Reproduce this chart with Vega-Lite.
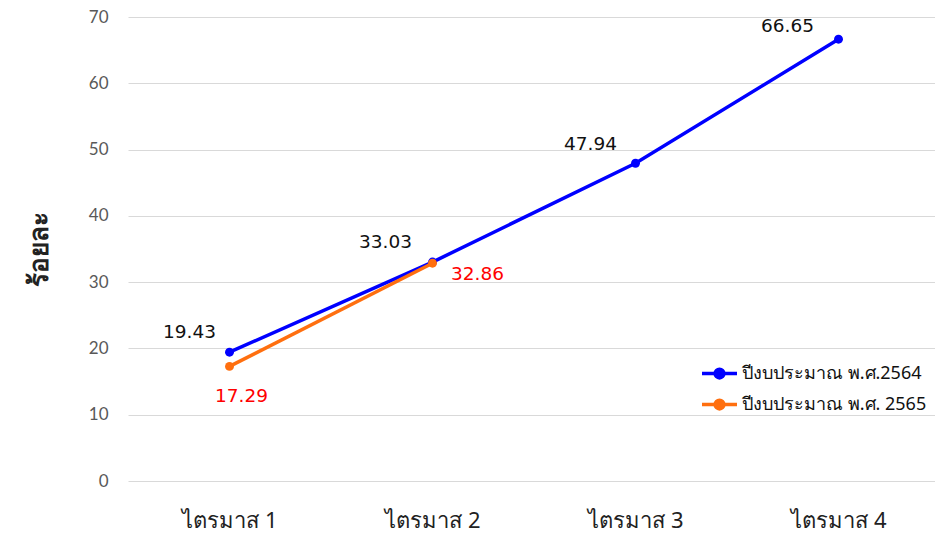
{
  "$schema": "https://vega.github.io/schema/vega-lite/v6.json",
  "width": 812,
  "height": 464,
  "autosize": {"type": "none"},
  "padding": {"left": 128, "top": 17, "right": 0, "bottom": 58},
  "background": "white",
  "config": {
    "view": {"stroke": null},
    "font": "DejaVu Sans"
  },
  "data": {
    "values": [
      {"q": "ไตรมาส 1", "series": "ปีงบประมาณ พ.ศ.2564", "v": 19.43},
      {"q": "ไตรมาส 2", "series": "ปีงบประมาณ พ.ศ.2564", "v": 33.03},
      {"q": "ไตรมาส 3", "series": "ปีงบประมาณ พ.ศ.2564", "v": 47.94},
      {"q": "ไตรมาส 4", "series": "ปีงบประมาณ พ.ศ.2564", "v": 66.65},
      {"q": "ไตรมาส 1", "series": "ปีงบประมาณ พ.ศ. 2565", "v": 17.29},
      {"q": "ไตรมาส 2", "series": "ปีงบประมาณ พ.ศ. 2565", "v": 32.86}
    ]
  },
  "encoding": {
    "x": {
      "field": "q", "type": "ordinal",
      "scale": {"type": "point", "padding": 0.5},
      "axis": {"title": null, "labelAngle": 0, "domain": false, "ticks": false, "labelPadding": 29, "labelFontSize": 22, "labelColor": "#222222", "labelFont": "Noto Sans"}
    },
    "y": {
      "field": "v", "type": "quantitative",
      "scale": {"domain": [0, 70]},
      "axis": {"title": "ร้อยละ", "titleFontSize": 26, "titleFontWeight": "bold", "titleColor": "#222222", "titlePadding": 36, "titleFont": "Noto Sans",
        "values": [0, 10, 20, 30, 40, 50, 60, 70], "domain": false, "ticks": false, "labelPadding": 20, "labelFontSize": 17, "labelColor": "#595959", "labelFont": "Lato",
        "gridColor": "#d9d9d9", "gridWidth": 1}
    }
  },
  "layer": [
    {
      "mark": {"type": "line", "strokeWidth": 3.5, "point": {"filled": true, "size": 80}},
      "encoding": {
        "color": {
          "field": "series", "type": "nominal",
          "scale": {"domain": ["ปีงบประมาณ พ.ศ.2564", "ปีงบประมาณ พ.ศ. 2565"], "range": ["#0000ff", "#ff6f0f"]},
          "legend": {"title": null, "orient": "none", "legendX": 572, "legendY": 337, "labelFontSize": 18, "labelColor": "#111111", "labelFont": "Noto Sans", "labelLimit": 0,
            "symbolType": "M-1,0H1M-0.25,0A0.25,0.25,0,1,1,0.25,0A0.25,0.25,0,1,1,-0.25,0", "symbolSize": 1225, "symbolStrokeWidth": 3.5, "rowPadding": 0, "labelOffset": 3}
        }
      }
    },
    {
      "transform": [{"filter": "datum.series == 'ปีงบประมาณ พ.ศ.2564' && datum.q == 'ไตรมาส 1'"}],
      "mark": {"type": "text", "fontSize": 18.5, "color": "#111111", "dx": -40, "dy": -20},
      "encoding": {"text": {"field": "v", "type": "quantitative", "format": ".2f"}}
    },
    {
      "transform": [{"filter": "datum.series == 'ปีงบประมาณ พ.ศ.2564' && datum.q == 'ไตรมาส 2'"}],
      "mark": {"type": "text", "fontSize": 18.5, "color": "#111111", "dx": -47, "dy": -20},
      "encoding": {"text": {"field": "v", "type": "quantitative", "format": ".2f"}}
    },
    {
      "transform": [{"filter": "datum.series == 'ปีงบประมาณ พ.ศ.2564' && datum.q == 'ไตรมาส 3'"}],
      "mark": {"type": "text", "fontSize": 18.5, "color": "#111111", "dx": -45, "dy": -19},
      "encoding": {"text": {"field": "v", "type": "quantitative", "format": ".2f"}}
    },
    {
      "transform": [{"filter": "datum.series == 'ปีงบประมาณ พ.ศ.2564' && datum.q == 'ไตรมาส 4'"}],
      "mark": {"type": "text", "fontSize": 18.5, "color": "#111111", "dx": -51, "dy": -13},
      "encoding": {"text": {"field": "v", "type": "quantitative", "format": ".2f"}}
    },
    {
      "transform": [{"filter": "datum.series == 'ปีงบประมาณ พ.ศ. 2565' && datum.q == 'ไตรมาส 1'"}],
      "mark": {"type": "text", "fontSize": 18.5, "color": "#ff0000", "dx": 12, "dy": 30},
      "encoding": {"text": {"field": "v", "type": "quantitative", "format": ".2f"}}
    },
    {
      "transform": [{"filter": "datum.series == 'ปีงบประมาณ พ.ศ. 2565' && datum.q == 'ไตรมาส 2'"}],
      "mark": {"type": "text", "fontSize": 18.5, "color": "#ff0000", "dx": 45, "dy": 11},
      "encoding": {"text": {"field": "v", "type": "quantitative", "format": ".2f"}}
    }
  ]
}
